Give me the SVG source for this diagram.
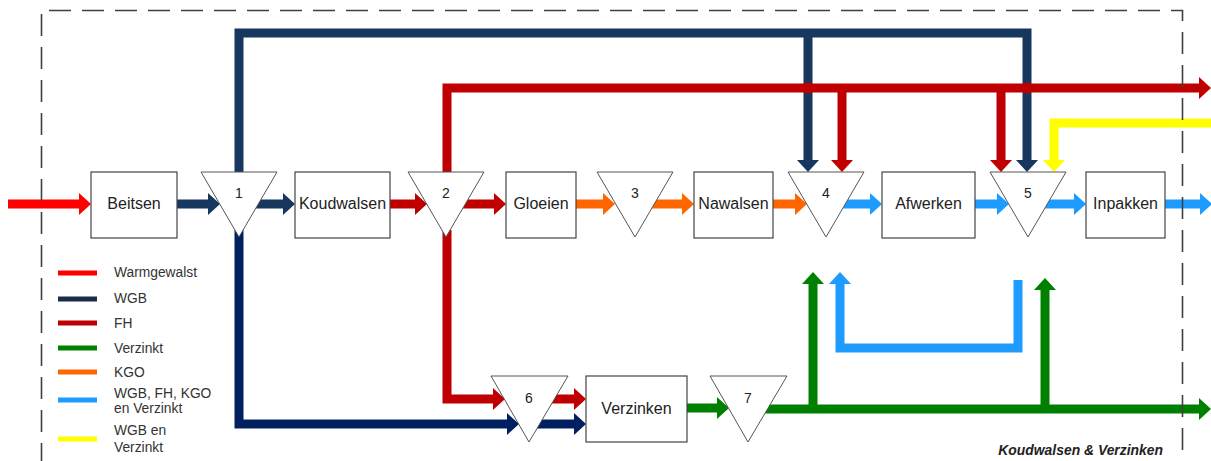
<svg xmlns="http://www.w3.org/2000/svg" width="1211" height="461" viewBox="0 0 1211 461">
  <style>
    .box { fill: #fff; stroke: #444; stroke-width: 1.2; }
    .tri { fill: #fff; stroke: #555; stroke-width: 1; }
    .lbl { font-family: "Liberation Sans", Arial, sans-serif; font-size: 16px; fill: #222; text-anchor: middle; }
    .num { font-family: "Liberation Sans", Arial, sans-serif; font-size: 14px; fill: #222; text-anchor: middle; }
    .leg { font-family: "Liberation Sans", Arial, sans-serif; font-size: 13.8px; fill: #333; }
    .flow { fill: none; stroke-width: 9; stroke-linejoin: miter; stroke-linecap: butt; }
    .legline { stroke-width: 5; }
    .wg { stroke: #FF0000; }
    .nv { stroke: #17375E; }
    .nv2 { stroke: #002060; }
    .fh { stroke: #C00000; }
    .vz { stroke: #008000; }
    .kgo { stroke: #FF6600; }
    .bl { stroke: #1E9BFF; }
    .ye { stroke: #FFFF00; }
  </style>
  <defs>
    <marker id="a-wg" markerUnits="userSpaceOnUse" viewBox="0 0 12 22" refX="6" refY="11" markerWidth="12" markerHeight="22" orient="auto"><path d="M0,0 L12,11 L0,22 z" fill="#FF0000"/></marker>
    <marker id="a-nv" markerUnits="userSpaceOnUse" viewBox="0 0 12 22" refX="6" refY="11" markerWidth="12" markerHeight="22" orient="auto"><path d="M0,0 L12,11 L0,22 z" fill="#17375E"/></marker>
    <marker id="a-nv2" markerUnits="userSpaceOnUse" viewBox="0 0 12 22" refX="6" refY="11" markerWidth="12" markerHeight="22" orient="auto"><path d="M0,0 L12,11 L0,22 z" fill="#002060"/></marker>
    <marker id="a-fh" markerUnits="userSpaceOnUse" viewBox="0 0 12 22" refX="6" refY="11" markerWidth="12" markerHeight="22" orient="auto"><path d="M0,0 L12,11 L0,22 z" fill="#C00000"/></marker>
    <marker id="a-vz" markerUnits="userSpaceOnUse" viewBox="0 0 12 22" refX="6" refY="11" markerWidth="12" markerHeight="22" orient="auto"><path d="M0,0 L12,11 L0,22 z" fill="#008000"/></marker>
    <marker id="a-kgo" markerUnits="userSpaceOnUse" viewBox="0 0 12 22" refX="6" refY="11" markerWidth="12" markerHeight="22" orient="auto"><path d="M0,0 L12,11 L0,22 z" fill="#FF6600"/></marker>
    <marker id="a-bl" markerUnits="userSpaceOnUse" viewBox="0 0 12 22" refX="6" refY="11" markerWidth="12" markerHeight="22" orient="auto"><path d="M0,0 L12,11 L0,22 z" fill="#1E9BFF"/></marker>
    <marker id="a-ye" markerUnits="userSpaceOnUse" viewBox="0 0 12 22" refX="6" refY="11" markerWidth="12" markerHeight="22" orient="auto"><path d="M0,0 L12,11 L0,22 z" fill="#FFFF00"/></marker>
  </defs>

  <rect x="0" y="0" width="1211" height="461" fill="#fff"/>

  <!-- material flows -->
  <g id="connectors">
    <!-- WGB bypass over the top -->
    <path class="flow nv" d="M239,190 V33 H1027 V166" marker-end="url(#a-nv)"/>
    <path class="flow nv" d="M808,33 V166" marker-end="url(#a-nv)"/>
    <!-- FH bypass -->
    <path class="flow fh" d="M447,190 V88 H1205" marker-end="url(#a-fh)"/>
    <circle cx="808" cy="88" r="5.5" fill="#C00000"/>
    <circle cx="1027" cy="88" r="5.5" fill="#C00000"/>
    <path class="flow fh" d="M842,88 V166" marker-end="url(#a-fh)"/>
    <path class="flow fh" d="M1001,88 V166" marker-end="url(#a-fh)"/>
    <!-- WGB en Verzinkt supply -->
    <path class="flow ye" d="M1216,123 H1054 V166" marker-end="url(#a-ye)"/>

    <!-- main line -->
    <path class="flow wg" d="M8,204 H85" marker-end="url(#a-wg)"/>
    <path class="flow nv" d="M177,204 H214" marker-end="url(#a-nv)"/>
    <path class="flow nv" d="M239,204 H289" marker-end="url(#a-nv)"/>
    <path class="flow fh" d="M390,204 H421" marker-end="url(#a-fh)"/>
    <path class="flow fh" d="M446,204 H500" marker-end="url(#a-fh)"/>
    <path class="flow kgo" d="M576,204 H609" marker-end="url(#a-kgo)"/>
    <path class="flow kgo" d="M635,204 H688" marker-end="url(#a-kgo)"/>
    <path class="flow kgo" d="M773,204 H801" marker-end="url(#a-kgo)"/>
    <path class="flow bl" d="M826,204 H876" marker-end="url(#a-bl)"/>
    <path class="flow bl" d="M975,204 H1003" marker-end="url(#a-bl)"/>
    <path class="flow bl" d="M1028,204 H1080" marker-end="url(#a-bl)"/>
    <path class="flow bl" d="M1165,204 H1206" marker-end="url(#a-bl)"/>

    <!-- galvanising branch -->
    <path class="flow nv2" d="M239,230 V424 H513" marker-end="url(#a-nv2)"/>
    <path class="flow nv2" d="M529,424 H580" marker-end="url(#a-nv2)"/>
    <path class="flow fh" d="M447,230 V399 H499" marker-end="url(#a-fh)"/>
    <path class="flow fh" d="M529,399 H580" marker-end="url(#a-fh)"/>
    <path class="flow vz" d="M687,408 H723" marker-end="url(#a-vz)"/>
    <path class="flow vz" d="M748,409 H1205" marker-end="url(#a-vz)"/>
    <path class="flow vz" d="M813,413 V278" marker-end="url(#a-vz)"/>
    <path class="flow vz" d="M1045,413 V284" marker-end="url(#a-vz)"/>
    <!-- return loop -->
    <path class="flow bl" d="M1018,280 V348 H840 V278" marker-end="url(#a-bl)"/>
  </g>

  <!-- process steps -->
  <g id="beitsen"><rect class="box" x="91" y="172" width="86" height="66"/><text class="lbl" x="134" y="209">Beitsen</text></g>
  <g id="koudwalsen"><rect class="box" x="295" y="172" width="95" height="66"/><text class="lbl" x="342.5" y="209">Koudwalsen</text></g>
  <g id="gloeien"><rect class="box" x="506" y="172" width="70" height="66"/><text class="lbl" x="541" y="209">Gloeien</text></g>
  <g id="nawalsen"><rect class="box" x="694" y="172" width="79" height="66"/><text class="lbl" x="733.5" y="209">Nawalsen</text></g>
  <g id="afwerken"><rect class="box" x="882" y="172" width="93" height="66"/><text class="lbl" x="928.5" y="209">Afwerken</text></g>
  <g id="inpakken"><rect class="box" x="1086" y="172" width="79" height="66"/><text class="lbl" x="1125.5" y="209">Inpakken</text></g>
  <g id="verzinken"><rect class="box" x="586" y="376" width="101" height="66"/><text class="lbl" x="636.5" y="414">Verzinken</text></g>

  <!-- storage points -->
  <g id="opslag-1"><polygon class="tri" points="201,172 277,172 239,237"/><text class="num" x="239" y="198">1</text></g>
  <g id="opslag-2"><polygon class="tri" points="408,172 484,172 446,237"/><text class="num" x="446" y="198">2</text></g>
  <g id="opslag-3"><polygon class="tri" points="597,172 673,172 635,237"/><text class="num" x="635" y="198">3</text></g>
  <g id="opslag-4"><polygon class="tri" points="788,172 864,172 826,237"/><text class="num" x="826" y="198">4</text></g>
  <g id="opslag-5"><polygon class="tri" points="990,172 1066,172 1028,237"/><text class="num" x="1028" y="198">5</text></g>
  <g id="opslag-6"><polygon class="tri" points="491,376 568,376 529,442"/><text class="num" x="529" y="403">6</text></g>
  <g id="opslag-7"><polygon class="tri" points="710,376 787,376 748,442"/><text class="num" x="748" y="403">7</text></g>

  <!-- legend -->
  <g id="legend">
    <line class="legline wg" x1="58" y1="273" x2="97" y2="273"/><text class="leg" x="114" y="277">Warmgewalst</text>
    <line class="legline" stroke="#1C2B4A" x1="58" y1="299" x2="97" y2="299"/><text class="leg" x="114" y="303">WGB</text>
    <line class="legline fh" x1="58" y1="323" x2="97" y2="323"/><text class="leg" x="114" y="328">FH</text>
    <line class="legline vz" x1="58" y1="348" x2="97" y2="348"/><text class="leg" x="114" y="353">Verzinkt</text>
    <line class="legline kgo" x1="58" y1="372" x2="97" y2="372"/><text class="leg" x="114" y="377">KGO</text>
    <line class="legline bl" x1="58" y1="400" x2="97" y2="400"/><text class="leg" x="114" y="398">WGB, FH, KGO</text><text class="leg" x="114" y="413">en Verzinkt</text>
    <line class="legline ye" x1="58" y1="439" x2="97" y2="439"/><text class="leg" x="114" y="435">WGB en</text><text class="leg" x="114" y="452">Verzinkt</text>
  </g>

  <!-- plant boundary -->
  <g id="grens">
    <path d="M41.5,465 V10.5 H1182.5 V465" fill="none" stroke="#404040" stroke-width="1.6" stroke-dasharray="22 11"/>
    <text x="1163" y="455" font-family="'Liberation Sans', Arial, sans-serif" font-size="13.9" font-weight="bold" font-style="italic" fill="#222" text-anchor="end">Koudwalsen &amp; Verzinken</text>
  </g>
</svg>
